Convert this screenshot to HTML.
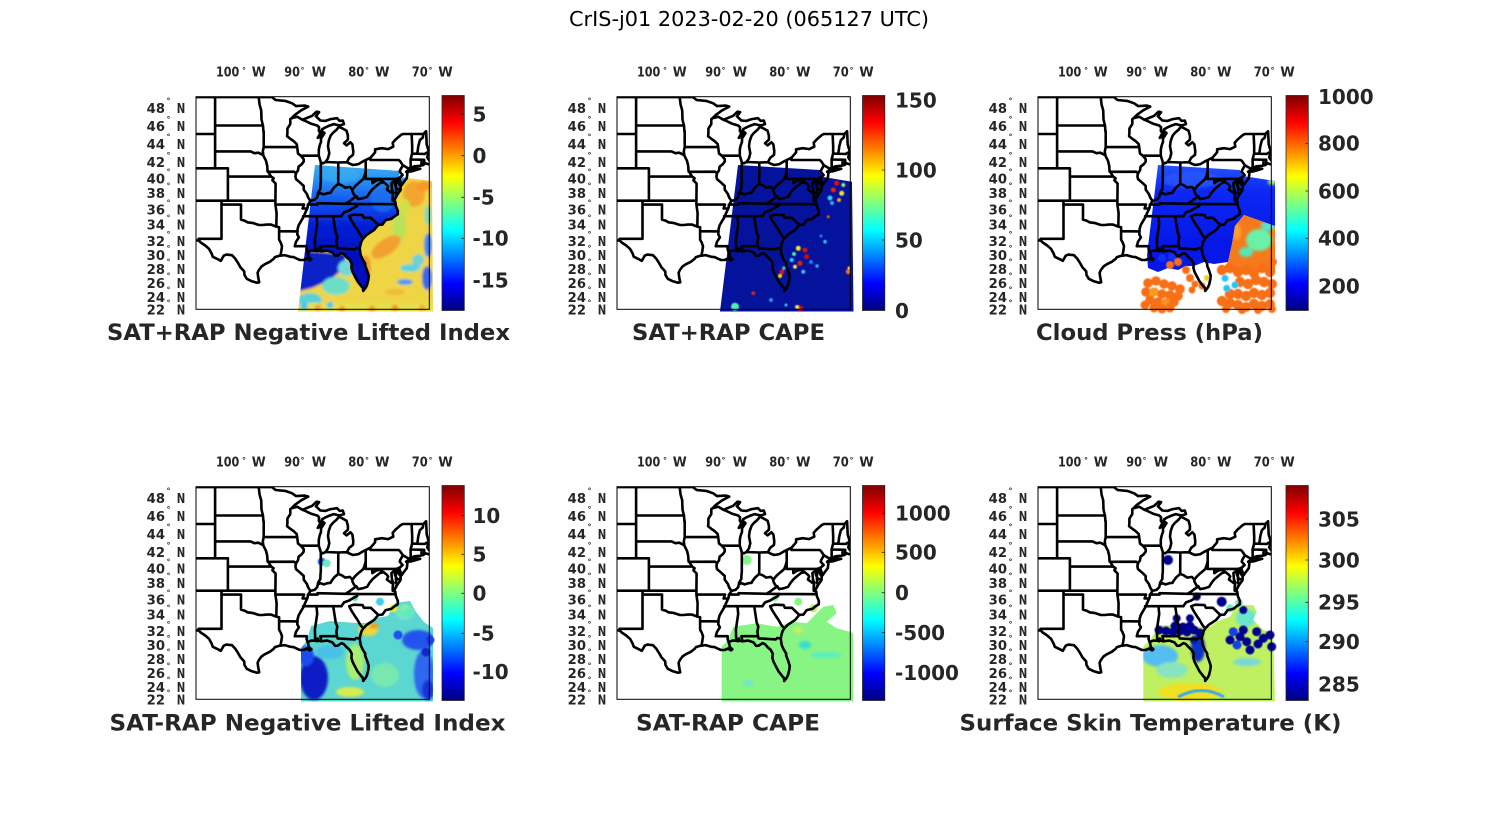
<!DOCTYPE html>
<html><head><meta charset="utf-8">
<style>
html,body{margin:0;padding:0;background:#fff;}
svg{display:block}
text{font-family:"DejaVu Sans","Liberation Sans",sans-serif;}
.ax text{font-weight:bold;fill:#262626;font-size:13px;}
.cbl{font-weight:bold;fill:#262626;font-size:20px;}
.ttl{font-weight:bold;fill:#262626;font-size:22px;}
</style></head>
<body>
<svg width="1500" height="825" viewBox="0 0 1500 825" xmlns="http://www.w3.org/2000/svg" xmlns:xlink="http://www.w3.org/1999/xlink">
<defs>
 <linearGradient id="jet" x1="0" y1="1" x2="0" y2="0">
  <stop offset="0" stop-color="#000080"/><stop offset="0.125" stop-color="#0000FF"/>
  <stop offset="0.375" stop-color="#00FFFF"/><stop offset="0.625" stop-color="#FFFF00"/>
  <stop offset="0.875" stop-color="#FF0000"/><stop offset="1" stop-color="#800000"/>
 </linearGradient>
 <linearGradient id="lg" gradientUnits="userSpaceOnUse" x1="0" y1="165" x2="0" y2="255">
  <stop offset="0" stop-color="#38ACF2"/><stop offset="0.17" stop-color="#2890F2"/>
  <stop offset="0.33" stop-color="#1C68F0"/><stop offset="0.5" stop-color="#0C40E8"/>
  <stop offset="0.67" stop-color="#0420D4"/><stop offset="1" stop-color="#0010C0"/>
 </linearGradient>
 <linearGradient id="g3" gradientUnits="userSpaceOnUse" x1="0" y1="165" x2="0" y2="240">
  <stop offset="0" stop-color="#2454FF"/><stop offset="0.35" stop-color="#0C28F4"/><stop offset="1" stop-color="#0618E8"/>
 </linearGradient>
 <filter id="bl" x="-10%" y="-10%" width="120%" height="120%"><feGaussianBlur stdDeviation="1.3"/></filter>
 <filter id="bl2" x="-20%" y="-20%" width="140%" height="140%"><feGaussianBlur stdDeviation="0.5"/></filter>
 <clipPath id="box"><rect x="196" y="96.7" width="233.3" height="212.6"/></clipPath>
 <clipPath id="land"><path id="landp" d=""/></clipPath>
 <clipPath id="sw"><path d="M315,165 L400,171 L399,177 L432,181 L433,311.5 L298,311.5 Z"/></clipPath>
 <clipPath id="c3"><path d="M316,165 L398,170 L401,176 L433,181 L433,226 L402,215 L393,226 L390,244 L386,262 L372,264 L362,262 L352,266 L344,266 L336,270 L326,268 L316,272 L306,268 L305,255 Z"/></clipPath>
 <clipPath id="c3b"><path d="M433,226 L402,215 L393,226 L390,244 L386,262 L378,272 L433,272 Z"/></clipPath>
 <clipPath id="c4"><path d="M301,311.5 L301,258 L307,250 L311,236 L330,231 L356,233 L366,233 L376,228 L388,226 L395,213 L410,211 L416,222 L424,232 L433,238 L433,311.5 Z"/></clipPath>
 <clipPath id="c5"><path d="M300.7,311.5 L300.7,256.7 L307.3,250 L312.3,236.7 L335.7,233.3 L355.7,236.7 L372.3,231.7 L385.7,233.3 L395.7,223.3 L402.3,216.7 L412.3,215 L415.7,223.3 L405.7,231.7 L415.7,238.3 L429,241.7 L432.3,243.3 L432.3,311.5 Z"/></clipPath>
 <clipPath id="c6"><path d="M301.3,311.5 L301.3,256.7 L308,250 L314.7,240 L321.3,235 L354.7,236.7 L368,236.7 L374.7,231.7 L388,226.7 L394.7,215 L411.3,215 L414.7,221.7 L411.3,230 L421.3,240 L431.3,243.3 L433,311.5 Z"/></clipPath>
 <path id="map" d="" fill="none" stroke="#000" stroke-width="2.6" stroke-linejoin="round" stroke-linecap="round"/>
 <g id="ax" class="ax">
  <text x="216" y="76.7" textLength="23.3" lengthAdjust="spacingAndGlyphs">100</text><text x="242" y="72.9" style="font-size:8px">°</text><text x="251.7" y="76.7" textLength="14" lengthAdjust="spacingAndGlyphs">W</text>
  <text x="284.3" y="76.7" textLength="15.7" lengthAdjust="spacingAndGlyphs">90</text><text x="300.5" y="72.9" style="font-size:8px">°</text><text x="311.7" y="76.7" textLength="14.5" lengthAdjust="spacingAndGlyphs">W</text>
  <text x="348.3" y="76.7" textLength="16" lengthAdjust="spacingAndGlyphs">80</text><text x="365" y="72.9" style="font-size:8px">°</text><text x="375" y="76.7" textLength="14.5" lengthAdjust="spacingAndGlyphs">W</text>
  <text x="411.7" y="76.7" textLength="16" lengthAdjust="spacingAndGlyphs">70</text><text x="428.5" y="72.9" style="font-size:8px">°</text><text x="438.3" y="76.7" textLength="14.5" lengthAdjust="spacingAndGlyphs">W</text>

  <text x="146.7" y="112.8" textLength="18.3" lengthAdjust="spacingAndGlyphs">48</text><text x="166.5" y="103.6" style="font-size:8px">°</text><text x="176.7" y="112.8" textLength="8.5" lengthAdjust="spacingAndGlyphs">N</text>
  <text x="146.7" y="131.2" textLength="18.3" lengthAdjust="spacingAndGlyphs">46</text><text x="166.5" y="122" style="font-size:8px">°</text><text x="176.7" y="131.2" textLength="8.5" lengthAdjust="spacingAndGlyphs">N</text>
  <text x="146.7" y="148.8" textLength="18.3" lengthAdjust="spacingAndGlyphs">44</text><text x="166.5" y="139.6" style="font-size:8px">°</text><text x="176.7" y="148.8" textLength="8.5" lengthAdjust="spacingAndGlyphs">N</text>
  <text x="146.7" y="167.2" textLength="18.3" lengthAdjust="spacingAndGlyphs">42</text><text x="166.5" y="158" style="font-size:8px">°</text><text x="176.7" y="167.2" textLength="8.5" lengthAdjust="spacingAndGlyphs">N</text>
  <text x="146.7" y="183.5" textLength="18.3" lengthAdjust="spacingAndGlyphs">40</text><text x="166.5" y="174.3" style="font-size:8px">°</text><text x="176.7" y="183.5" textLength="8.5" lengthAdjust="spacingAndGlyphs">N</text>
  <text x="146.7" y="197.8" textLength="18.3" lengthAdjust="spacingAndGlyphs">38</text><text x="166.5" y="188.6" style="font-size:8px">°</text><text x="176.7" y="197.8" textLength="8.5" lengthAdjust="spacingAndGlyphs">N</text>
  <text x="146.7" y="214.5" textLength="18.3" lengthAdjust="spacingAndGlyphs">36</text><text x="166.5" y="205.3" style="font-size:8px">°</text><text x="176.7" y="214.5" textLength="8.5" lengthAdjust="spacingAndGlyphs">N</text>
  <text x="146.7" y="229.5" textLength="18.3" lengthAdjust="spacingAndGlyphs">34</text><text x="166.5" y="220.3" style="font-size:8px">°</text><text x="176.7" y="229.5" textLength="8.5" lengthAdjust="spacingAndGlyphs">N</text>
  <text x="146.7" y="246.2" textLength="18.3" lengthAdjust="spacingAndGlyphs">32</text><text x="166.5" y="237" style="font-size:8px">°</text><text x="176.7" y="246.2" textLength="8.5" lengthAdjust="spacingAndGlyphs">N</text>
  <text x="146.7" y="260.2" textLength="18.3" lengthAdjust="spacingAndGlyphs">30</text><text x="166.5" y="251" style="font-size:8px">°</text><text x="176.7" y="260.2" textLength="8.5" lengthAdjust="spacingAndGlyphs">N</text>
  <text x="146.7" y="273.8" textLength="18.3" lengthAdjust="spacingAndGlyphs">28</text><text x="166.5" y="264.6" style="font-size:8px">°</text><text x="176.7" y="273.8" textLength="8.5" lengthAdjust="spacingAndGlyphs">N</text>
  <text x="146.7" y="287.8" textLength="18.3" lengthAdjust="spacingAndGlyphs">26</text><text x="166.5" y="278.6" style="font-size:8px">°</text><text x="176.7" y="287.8" textLength="8.5" lengthAdjust="spacingAndGlyphs">N</text>
  <text x="146.7" y="301.8" textLength="18.3" lengthAdjust="spacingAndGlyphs">24</text><text x="166.5" y="292.6" style="font-size:8px">°</text><text x="176.7" y="301.8" textLength="8.5" lengthAdjust="spacingAndGlyphs">N</text>
  <text x="146.7" y="314.5" textLength="18.3" lengthAdjust="spacingAndGlyphs">22</text><text x="166.5" y="305.3" style="font-size:8px">°</text><text x="176.7" y="314.5" textLength="8.5" lengthAdjust="spacingAndGlyphs">N</text>
 </g>
 <g id="frame">
  <g clip-path="url(#box)"><use href="#map" xlink:href="#map"/></g>
  <rect x="196" y="96.7" width="233.3" height="212.6" fill="none" stroke="#000" stroke-width="1"/>
  <use href="#ax" xlink:href="#ax"/>
 </g>
</defs>

<rect width="1500" height="825" fill="#fff"/>
<text x="569" y="26" style="font-size:20px" textLength="360" lengthAdjust="spacingAndGlyphs" fill="#000">CrIS-j01 2023-02-20 (065127 UTC)</text>

<!-- ========== PANEL 1 ========== -->
<g>
 <g clip-path="url(#sw)">
  <g filter="url(#bl)">
   <rect x="290" y="160" width="150" height="155" fill="#EFD545"/>
   <ellipse cx="414" cy="194" rx="11" ry="13" fill="#F3A62E"/>
   <ellipse cx="424" cy="186" rx="7" ry="5" fill="#F39A2A"/>
   <ellipse cx="399" cy="226" rx="7" ry="16" fill="#B9E25A"/>
   <ellipse cx="405" cy="206" rx="5" ry="7" fill="#CFE04E"/>
   <ellipse cx="386" cy="247" rx="17" ry="8" fill="#F2A030" transform="rotate(-35 386 247)"/>
   <ellipse cx="366" cy="268" rx="5" ry="13" fill="#F39C2C"/>
   <ellipse cx="428" cy="215" rx="4" ry="10" fill="#8CD6B0"/>
   <ellipse cx="428" cy="245" rx="4" ry="12" fill="#3E86EE"/>
   <ellipse cx="427" cy="278" rx="5" ry="12" fill="#3468EE"/>
   <ellipse cx="418" cy="260" rx="6" ry="6" fill="#70D0D8"/>
   <ellipse cx="410" cy="268" rx="10" ry="4" fill="#5CD2E0"/>
   <ellipse cx="405" cy="282" rx="8" ry="3" fill="#4A9CF0"/>
   <ellipse cx="395" cy="292" rx="10" ry="3" fill="#F2B83A"/>
   <path d="M296,250 L346,254 L344,268 L330,280 L312,288 L296,292 Z" fill="#0A22C6"/>
   <ellipse cx="310" cy="300" rx="12" ry="7" fill="#58D0D8"/>
   <ellipse cx="336" cy="286" rx="14" ry="9" fill="#6EDDC6"/>
   <ellipse cx="347" cy="268" rx="9" ry="8" fill="#72D8D8"/>
   <rect x="296" y="303" width="140" height="12" fill="#E6E04A"/>
   <circle cx="304" cy="306" r="4" fill="#48C8E8"/>
   <circle cx="318" cy="308" r="3.5" fill="#F2A030"/>
   <circle cx="330" cy="305" r="3.5" fill="#48C8E8"/>
   <circle cx="342" cy="309" r="3.5" fill="#F2A030"/>
   <circle cx="372" cy="309" r="3.5" fill="#F2A030"/>
   <circle cx="395" cy="308" r="3.5" fill="#F09A28"/>
   <circle cx="422" cy="308" r="3.5" fill="#F0B030"/>
  </g>
  <g clip-path="url(#land)">
   <g filter="url(#bl)">
    <rect x="290" y="160" width="150" height="155" fill="url(#lg)"/>
    <ellipse cx="383" cy="200" rx="12" ry="12" fill="#1C70F0" opacity="0.7"/>
    <ellipse cx="340" cy="175" rx="20" ry="8" fill="#3AB0F2" opacity="0.6"/>
   </g>
  </g>
 </g>
 <use href="#frame" xlink:href="#frame"/>
</g>

<!-- ========== PANEL 2 ========== -->
<g transform="translate(421,0)">
 <path d="M317,165 L399,170 L401,176.7 L431,181.7 L432.5,311.5 L299,311.5 Z" fill="#05129C"/>
 <g filter="url(#bl2)">
  <circle cx="415.7" cy="183.3" r="2.5" fill="#E01010"/><circle cx="412.3" cy="190" r="2.5" fill="#F02010"/>
  <circle cx="420.7" cy="193.3" r="2.5" fill="#F0E020"/><circle cx="409" cy="198" r="2.5" fill="#30D0F0"/>
  <circle cx="422.3" cy="185" r="2" fill="#80F070"/><circle cx="418" cy="200" r="2" fill="#F0A020"/>
  <circle cx="411" cy="203" r="2" fill="#40A0F0"/>
  <circle cx="384" cy="250" r="2.5" fill="#E01010"/><circle cx="377.3" cy="248.3" r="2.5" fill="#F0E020"/>
  <circle cx="385.7" cy="256.7" r="2.5" fill="#D01010"/><circle cx="370.7" cy="260" r="2" fill="#30D0F0"/>
  <circle cx="379" cy="263.3" r="2.5" fill="#E02010"/><circle cx="374" cy="266.7" r="2" fill="#F0E040"/>
  <circle cx="382.3" cy="271.7" r="2" fill="#40C0F0"/><circle cx="373" cy="254" r="2" fill="#60E0A0"/>
  <circle cx="390" cy="262" r="2" fill="#2080F0"/><circle cx="396" cy="266" r="1.8" fill="#30B0F0"/>
  <circle cx="361" cy="272" r="2.5" fill="#E01010"/><circle cx="359" cy="276" r="2" fill="#F0D020"/>
  <circle cx="363" cy="268" r="1.8" fill="#40C0E0"/>
  <circle cx="427.3" cy="271.7" r="2.5" fill="#F07010"/><circle cx="428" cy="268" r="1.5" fill="#F0E040"/>
  <circle cx="314" cy="306.7" r="4" fill="#50F0B0"/><circle cx="379" cy="308.3" r="3" fill="#D01010"/>
  <circle cx="376" cy="307" r="2" fill="#F0E040"/><circle cx="332.3" cy="293.3" r="2" fill="#D02010"/>
  <circle cx="350" cy="300" r="2" fill="#3090F0"/><circle cx="365" cy="305" r="1.5" fill="#40C0F0"/>
  <circle cx="407.3" cy="216.7" r="1.5" fill="#F06010"/><circle cx="404" cy="241.7" r="1.8" fill="#30C0F0"/>
  <circle cx="400" cy="236" r="1.5" fill="#2080F0"/>
 </g>
 <use href="#frame" xlink:href="#frame"/>
</g>

<!-- ========== PANEL 3 ========== -->
<g transform="translate(842,0)">
 <g clip-path="url(#c3)">
  <rect x="290" y="160" width="150" height="155" fill="url(#g3)"/>
  <g filter="url(#bl)">
   <ellipse cx="430" cy="182" rx="4" ry="3" fill="#A8F060"/>
   <ellipse cx="350" cy="180" rx="30" ry="8" fill="#2C60FF" opacity="0.6"/>
  </g>
 </g>
 <g clip-path="url(#c3b)">
  <rect x="370" y="200" width="70" height="80" fill="#F57A1C"/>
  <g filter="url(#bl)">
   <ellipse cx="417" cy="240" rx="13" ry="11" fill="#6AF0A8"/>
   <ellipse cx="426" cy="226" rx="7" ry="5" fill="#58E0C8"/>
   <ellipse cx="404" cy="252" rx="7" ry="5" fill="#56E6B8"/>
   <ellipse cx="395" cy="232" rx="4" ry="8" fill="#F8A030"/>
  </g>
 </g>
 <g filter="url(#bl2)" fill="#F87018">
  <circle cx="306" cy="283" r="4.8"/><circle cx="314" cy="281" r="4.8"/><circle cx="322" cy="284" r="4.8"/>
  <circle cx="330" cy="286" r="4.8"/><circle cx="338" cy="289" r="4.8"/><circle cx="304" cy="292" r="4.8"/>
  <circle cx="312" cy="292" r="4.8" fill="#F89A20"/><circle cx="320" cy="294" r="4.8"/><circle cx="328" cy="295" r="4.8"/>
  <circle cx="336" cy="296" r="4.8"/><circle cx="308" cy="300" r="4.8"/><circle cx="316" cy="302" r="4.8"/>
  <circle cx="324" cy="303" r="4.8" fill="#F89020"/><circle cx="332" cy="302" r="4.8"/><circle cx="312" cy="308" r="4.5"/>
  <circle cx="320" cy="309" r="4.5"/><circle cx="328" cy="308" r="4.5"/><circle cx="303" cy="305" r="4.5"/>
  <circle cx="328" cy="265" r="4"/><circle cx="336" cy="262" r="4"/><circle cx="344" cy="270" r="4"/>
  <circle cx="348" cy="278" r="4"/><circle cx="353" cy="284" r="3.5"/><circle cx="350" cy="290" r="3.5"/>
  <circle cx="365" cy="278" r="3" fill="#F0D020"/><circle cx="360" cy="286" r="3.5"/>
  <circle cx="380" cy="270" r="5.2"/><circle cx="388" cy="268" r="5.2"/><circle cx="396" cy="272" r="5.2"/>
  <circle cx="404" cy="270" r="5.2"/><circle cx="412" cy="273" r="5.2"/><circle cx="420" cy="268" r="5.2"/>
  <circle cx="428" cy="272" r="5.2"/><circle cx="431" cy="262" r="4"/><circle cx="398" cy="282" r="5.2"/>
  <circle cx="406" cy="284" r="5.2"/><circle cx="414" cy="280" r="5.2"/><circle cx="422" cy="282" r="5.2"/>
  <circle cx="430" cy="284" r="5"/><circle cx="388" cy="294" r="5.2"/><circle cx="396" cy="294" r="5.2"/>
  <circle cx="404" cy="296" r="5.2"/><circle cx="412" cy="293" r="5.2"/><circle cx="420" cy="295" r="5.2"/>
  <circle cx="428" cy="293" r="5.2"/><circle cx="380" cy="301" r="5.2"/><circle cx="388" cy="303" r="5.2"/>
  <circle cx="396" cy="305" r="5.2"/><circle cx="404" cy="307" r="5"/><circle cx="412" cy="304" r="5.2"/>
  <circle cx="420" cy="306" r="5.2"/><circle cx="428" cy="304" r="5"/><circle cx="384" cy="309" r="4"/>
  <circle cx="400" cy="310" r="4"/><circle cx="416" cy="310" r="4"/><circle cx="430" cy="309" r="4"/>
  <circle cx="383" cy="278.3" r="3.5" fill="#20C8F0"/><circle cx="384.7" cy="288.3" r="3.5" fill="#20C8F0"/>
  <circle cx="393" cy="285" r="3.5" fill="#20C8F0"/>
  <circle cx="320" cy="258" r="4" fill="#1030F0"/><circle cx="330" cy="256" r="4" fill="#1030F0"/>
 </g>
 <use href="#frame" xlink:href="#frame"/>
</g>

<!-- ========== PANEL 4 ========== -->
<g transform="translate(0,390)">
 <g clip-path="url(#c4)">
  <rect x="290" y="200" width="150" height="115" fill="#5CD6D0"/>
  <g filter="url(#bl)">
   <ellipse cx="314" cy="288" rx="14" ry="22" fill="#0A1EC4"/>
   <ellipse cx="306" cy="266" rx="8" ry="10" fill="#1A4CEE"/>
   <ellipse cx="330" cy="262" rx="14" ry="7" fill="#48C0E8"/>
   <ellipse cx="355" cy="272" rx="9" ry="18" fill="#A8EE70"/>
   <ellipse cx="368" cy="240" rx="10" ry="6" fill="#EAD83A"/>
   <ellipse cx="374" cy="236" rx="5" ry="3" fill="#F0A028"/>
   <ellipse cx="418" cy="250" rx="16" ry="10" fill="#2454EE"/>
   <ellipse cx="424" cy="284" rx="10" ry="24" fill="#2E68F0"/>
   <ellipse cx="428" cy="300" rx="6" ry="10" fill="#1430D8"/>
   <ellipse cx="405" cy="222" rx="10" ry="8" fill="#6EE6C4"/>
   <ellipse cx="350" cy="302" rx="14" ry="5" fill="#D8EC50"/>
   <ellipse cx="385" cy="285" rx="14" ry="12" fill="#78E8B0"/>
   <ellipse cx="335" cy="240" rx="20" ry="6" fill="#58D8D8"/>
  </g>
 </g>
 <g filter="url(#bl2)">
  <circle cx="321.7" cy="171.7" r="4" fill="#2060F0"/><circle cx="326.7" cy="173.3" r="4" fill="#70E8C0"/>
  <circle cx="380" cy="211.7" r="4" fill="#40D0E0"/><circle cx="393.3" cy="218.3" r="4" fill="#E8F020"/>
  <circle cx="405" cy="218.3" r="4" fill="#80F0A0"/><circle cx="408" cy="223" r="4" fill="#60E8C0"/>
  <circle cx="355" cy="208.3" r="3" fill="#50E0C0"/>
  <circle cx="398" cy="245" r="4.5" fill="#2050F0"/><circle cx="414" cy="248" r="4.5" fill="#2050F0"/>
  <circle cx="430" cy="250" r="4.5" fill="#1840E8"/><circle cx="426" cy="262" r="4.5" fill="#0A28D0"/>
 </g>
 <use href="#frame" xlink:href="#frame"/>
</g>

<!-- ========== PANEL 5 ========== -->
<g transform="translate(421,390)">
 <g clip-path="url(#c5)">
  <rect x="290" y="200" width="150" height="115" fill="#88F484"/>
  <g filter="url(#bl)">
   <ellipse cx="384" cy="255" rx="6" ry="4" fill="#36E0D0"/>
   <ellipse cx="405" cy="265" rx="16" ry="3" fill="#5CEEC0"/>
   <ellipse cx="327" cy="293" rx="6" ry="3" fill="#6CE8C8"/>
   <ellipse cx="377" cy="240" rx="5" ry="3" fill="#C8F060"/>
  </g>
 </g>
 <g filter="url(#bl2)">
  <circle cx="325.7" cy="170" r="5" fill="#88F484"/><circle cx="354" cy="208.3" r="3" fill="#88F484"/>
  <circle cx="377.3" cy="211.7" r="4" fill="#88F484"/><circle cx="392.3" cy="218.3" r="4" fill="#B8F060"/>
 </g>
 <use href="#frame" xlink:href="#frame"/>
</g>

<!-- ========== PANEL 6 ========== -->
<g transform="translate(842,390)">
 <g clip-path="url(#c6)">
  <rect x="290" y="200" width="150" height="115" fill="#BEF062"/>
  <g filter="url(#bl)">
   <ellipse cx="318" cy="266" rx="18" ry="11" fill="#54BEF0"/>
   <ellipse cx="330" cy="280" rx="16" ry="8" fill="#88E4C0"/>
   <ellipse cx="348" cy="302" rx="32" ry="9" fill="#F0E020"/>
   <ellipse cx="356" cy="258" rx="7" ry="14" fill="#0A30C8"/>
   <ellipse cx="405" cy="272" rx="14" ry="4" fill="#78D8D8"/>
   <ellipse cx="404" cy="228" rx="10" ry="9" fill="#68E6CC"/>
  </g>
  <path d="M336,307 Q360,294 382,307" stroke="#3AA8F0" stroke-width="3" fill="none" filter="url(#bl2)"/>
 </g>
 <g filter="url(#bl2)" fill="#00008E">
  <circle cx="317" cy="240" r="4.5"/><circle cx="324" cy="241" r="4.5"/><circle cx="331" cy="242" r="4.5"/>
  <circle cx="338" cy="241" r="4.5"/><circle cx="345" cy="242" r="4.5"/><circle cx="352" cy="240" r="4.5"/>
  <circle cx="358" cy="243" r="4.5"/><circle cx="333" cy="236" r="4.5"/><circle cx="341" cy="237" r="4.5"/>
  <circle cx="348" cy="236" r="4.5"/>
  <circle cx="352" cy="250" r="4" fill="#001CA8"/>
  <circle cx="388" cy="250" r="4.5"/><circle cx="398" cy="246.7" r="4.5"/><circle cx="404.7" cy="251.7" r="4.5"/>
  <circle cx="414.7" cy="241.7" r="4.5"/><circle cx="421.3" cy="248.3" r="4.5"/><circle cx="428" cy="245" r="4.5"/>
  <circle cx="429.7" cy="256.7" r="4.5"/><circle cx="408" cy="260" r="4.5"/><circle cx="401.3" cy="240" r="4.5"/>
  <circle cx="391.3" cy="241.7" r="4.5" fill="#1440E0"/><circle cx="395" cy="255" r="4.5" fill="#1440E0"/>
  <circle cx="416" cy="254" r="4.5"/>
  <circle cx="388" cy="218.3" r="4" fill="#6AE8CC"/><circle cx="397" cy="213" r="4" fill="#78EAC0"/>
  <circle cx="401.3" cy="220" r="4"/><circle cx="379.7" cy="211.7" r="5"/>
  <circle cx="326" cy="170" r="5"/><circle cx="354.7" cy="206.7" r="4"/>
  <circle cx="334.7" cy="228.3" r="4"/><circle cx="348" cy="228.3" r="4"/>
 </g>
 <use href="#frame" xlink:href="#frame"/>
</g>

<!-- ========== COLORBARS ========== -->
<g stroke="#262626" stroke-width="0.8">
 <rect x="442" y="95.5" width="22.3" height="215" fill="url(#jet)"/>
 <rect x="862.5" y="95.5" width="22.3" height="215" fill="url(#jet)"/>
 <rect x="1286" y="95.5" width="22.3" height="215" fill="url(#jet)"/>
 <rect x="442" y="485.5" width="22.3" height="215" fill="url(#jet)"/>
 <rect x="862.5" y="485.5" width="22.3" height="215" fill="url(#jet)"/>
 <rect x="1286" y="485.5" width="22.3" height="215" fill="url(#jet)"/>
 <path d="M461.3,114.3h3M461.3,155.7h3M461.3,197.3h3M461.3,238.3h3M461.3,280h3
  M881.8,100h3M881.8,170h3M881.8,240h3
  M1305.3,143.3h3M1305.3,191h3M1305.3,238.3h3M1305.3,286h3
  M461.3,515.7h3M461.3,554.3h3M461.3,593.3h3M461.3,633.3h3M461.3,671.7h3
  M881.8,513.3h3M881.8,552.3h3M881.8,592.7h3M881.8,632.7h3M881.8,672.7h3
  M1305.3,519h3M1305.3,560h3M1305.3,602.3h3M1305.3,641.7h3M1305.3,684.3h3" fill="none"/>
</g>
<g class="cbl">
 <text x="472.5" y="121.6">5</text><text x="472.5" y="163">0</text><text x="472.5" y="204.6">-5</text><text x="472.5" y="245.6">-10</text><text x="472.5" y="287.3">-15</text>
 <text x="895" y="107.3">150</text><text x="895" y="177.3">100</text><text x="895" y="247.3">50</text><text x="895" y="318">0</text>
 <text x="1318" y="104">1000</text><text x="1318" y="150.6">800</text><text x="1318" y="198.3">600</text><text x="1318" y="245.6">400</text><text x="1318" y="293.3">200</text>
 <text x="472.5" y="523">10</text><text x="472.5" y="561.6">5</text><text x="472.5" y="600.6">0</text><text x="472.5" y="640.6">-5</text><text x="472.5" y="679">-10</text>
 <text x="895" y="520.6">1000</text><text x="895" y="559.6">500</text><text x="895" y="600">0</text><text x="895" y="640">-500</text><text x="895" y="680">-1000</text>
 <text x="1318" y="526.3">305</text><text x="1318" y="567.3">300</text><text x="1318" y="609.6">295</text><text x="1318" y="649">290</text><text x="1318" y="691.6">285</text>
</g>

<!-- ========== TITLES ========== -->
<g class="ttl">
 <text x="107" y="340" textLength="403" lengthAdjust="spacingAndGlyphs">SAT+RAP Negative Lifted Index</text>
 <text x="632" y="340" textLength="193" lengthAdjust="spacingAndGlyphs">SAT+RAP CAPE</text>
 <text x="1036" y="340" textLength="227" lengthAdjust="spacingAndGlyphs">Cloud Press (hPa)</text>
 <text x="109.5" y="730.5" textLength="396" lengthAdjust="spacingAndGlyphs">SAT-RAP Negative Lifted Index</text>
 <text x="636" y="730.5" textLength="184" lengthAdjust="spacingAndGlyphs">SAT-RAP CAPE</text>
 <text x="959.5" y="730.5" textLength="382" lengthAdjust="spacingAndGlyphs">Surface Skin Temperature (K)</text>
</g>
</svg>
<script>
(function(){
var R=Math.PI/180;
function mer(l){return Math.log(Math.tan(Math.PI/4+l*R/2));}
var m22=mer(22);
function P(lo,la){return (369+(lo+80)*6.4).toFixed(1)+','+(309.5-360*(mer(la)-m22)).toFixed(1);}
function line(a){var s='';for(var i=0;i<a.length;i+=2){s+=(i?'L':'M')+P(a[i],a[i+1]);}return s;}
var L=[
[-107,49,-95.15,49,-94.6,48.7,-93.1,48.6,-92,48.35,-91.4,48.05,-90,48.1,-89.5,48],
[-89.5,48,-90.6,47.6,-91.6,47.1,-92.1,46.75,-91.2,46.9,-90.7,46.7,-90.4,46.57],
[-90.4,46.57,-89.6,46.8,-88.9,47.0,-88.2,47.45,-87.8,47.4,-88.3,46.95,-87.6,46.5,-86.8,46.45,-86,46.65,-85,46.75,-84.6,46.45,-84.1,46.5,-83.9,46.1],
[-83.9,46.1,-84.6,45.95,-85.5,46.1,-86.3,45.9,-86.9,45.7,-87.3,45.55,-87.6,45.1],
[-90.4,46.57,-90.1,46.5,-89.1,46.15,-88.1,45.95,-87.8,45.75,-87.85,45.35,-87.6,45.1],
[-87.6,45.1,-88,44.55,-87.7,44.7,-87.2,45.25,-86.95,45.1,-87.5,44.5,-87.5,44.1,-87.7,43.7,-87.85,43.2,-87.85,42.5],
[-92.1,46.75,-92.3,46.65,-92.3,46.1,-92.75,45.6,-92.75,45.1,-92.8,44.75,-92.3,44.45,-91.8,44.2,-91.3,43.85,-91.22,43.5],
[-91.22,43.5,-91.1,42.75,-90.65,42.5,-90.2,42.1,-90.2,41.8,-90.5,41.5,-91,41.2,-91.1,40.75,-91.4,40.4,-91.5,40.05,-91.4,39.7,-90.75,39.25,-90.2,38.85,-90.2,38.4,-89.7,37.85,-89.5,37.4,-89.15,36.98,-89.4,36.6,-89.55,36.5,-89.6,36.1,-90.05,35.3,-90.15,35,-90.6,34.4,-91,33.8,-91.15,33.3,-91.2,32.6,-90.95,32.2,-91.4,31.6,-91.6,31],
[-96.45,43.5,-91.22,43.5],
[-97.23,49,-97.1,48.2,-96.85,47.6,-96.8,46.6,-96.6,46,-96.56,45.94,-96.5,45.3,-96.45,45.3,-96.45,43.5,-96.6,43,-96.5,42.5,-96.1,41.9,-95.9,41.3,-95.85,40.6,-95.75,40.58,-95.3,40],
[-104.05,43,-98.5,43,-97.9,42.8,-97.3,42.85,-96.6,42.6,-96.5,42.5],
[-104.05,45.94,-96.56,45.94],
[-104.05,49,-104.05,41],
[-107,45,-104.05,45],
[-107,41,-102.05,41,-102.05,37],
[-102.05,40,-95.3,40],
[-95.3,40,-94.9,39.8,-95.1,39.55,-94.6,39.15,-94.62,37,-94.62,36.5,-94.43,35.4,-94.48,33.64],
[-95.75,40.58,-91.7,40.6,-91.4,40.4],
[-107,37,-94.62,37],
[-103.05,37,-103.05,36.5,-100,36.5,-100,34.56,-99.4,34.4,-99,34.2,-98.1,34.1,-97.2,33.85,-96.6,33.85,-96,33.9,-95.3,33.9,-94.48,33.64,-94.04,33.55],
[-103.05,36.5,-103.05,32,-106.62,32,-106.62,31.8,-107,31.78],
[-106.62,31.8,-106.3,31.5,-105.6,31.1,-105,30.65,-104.6,30,-104.4,29.55,-103.6,29.2,-103.15,28.98,-102.7,29.7,-102.3,29.85,-101.4,29.77,-100.9,29.3,-100.4,28.6,-100.1,28.1,-99.5,27.5,-99.45,27,-99.1,26.45,-98.3,26.1,-97.5,25.9,-97.15,25.95,
 -97.3,26.6,-97.4,27.3,-97.2,27.7,-96.8,28.2,-96.3,28.5,-95.5,28.85,-94.9,29.25,-94.7,29.5,-94,29.7,-93.84,29.7,
 -93.2,29.78,-92.3,29.55,-91.8,29.5,-91.3,29.3,-90.8,29.1,-90.2,29.1,-89.7,29.3,-89.2,29.05,-89,29.2,-89.4,29.5,-89.5,30,-89.6,30.2,
 -89,30.4,-88.4,30.38,-88.1,30.3,-88,30.7,-87.9,30.4,-87.5,30.3,-86.5,30.4,-85.7,30.15,-85.3,29.68,-84.9,29.7,-84.3,30.05,-83.9,29.9,-83.5,29.5,-83,29.1,-82.7,28.6,-82.75,28,-82.6,27.5,-82.2,26.8,-81.8,26.1,-81.2,25.4,-80.95,25.15,-80.9,24.7,-80.5,25.2,-80.3,25.6,-80.1,26.4,-80.05,26.9,-80.3,27.6,-80.6,28.3,-80.6,28.6,-81,29.2,-81.3,29.8,-81.45,30.7,-81.3,31.3,-81.15,31.7,-80.9,32.05,-80.4,32.5,-79.9,32.8,-79.2,33.2,-78.55,33.86,-77.9,33.9,-77.4,34.5,-76.5,34.65,-76,35,-75.5,35.25,-75.5,35.7,-75.8,36.3,-75.9,36.9,-76.3,37,-76.3,37.5,-76.2,38,-76.4,38.4,-76.5,39.2,-76,39.5,-75.95,39,-75.7,38.6,-75.8,38,-75.6,37.9,-75.95,37.2,-75.55,37.8,-75.1,38.3,-75.05,38.8,-75.4,39.2,-75.55,39.6,-75.3,39.85,-74.9,38.95,-74.6,39.3,-74.1,39.8,-74,40.4,-74.2,40.6,-74,40.7,-73.9,40.6,-73.3,40.65,-72,40.95,-72.8,40.95,-73.7,40.9,-73.65,41,-72.9,41.25,-72,41.3,-71.5,41.4,-71.2,41.6,-70.7,41.5,-70,41.75,-70.1,42.05,-70.6,41.95,-70.9,42.3,-70.8,42.6,-70.7,43,-70.3,43.6,-69.8,43.8],
[-94.04,33.55,-94.04,31.9,-93.8,31.5,-93.6,31,-93.7,30.3,-93.84,29.7],
[-94.04,33.02,-91.15,33],
[-94.62,36.5,-90.15,36.5,-90.37,36,-89.7,36],
[-91.6,31,-89.73,31,-89.75,30.6,-89.6,30.2],
[-88.2,35,-88.1,34,-88.45,31.9,-88.4,30.4],
[-90.3,35,-84.32,35],
[-85.6,35,-85.2,32.85,-84.95,32.3,-85.1,31.6,-85,31,-84.9,30.7,-82.2,30.57,-82,30.75,-81.5,30.7],
[-87.6,31,-85,31],[-87.6,31,-87.45,30.4],
[-83.1,35,-82.8,34.5,-82.2,33.7,-81.8,33.2,-81.4,32.6,-80.9,32.05],
[-83.1,35,-82.4,35.2,-81,35.15,-80.8,34.8,-79.7,34.8,-78.55,33.86],
[-84.32,35,-83.9,35.5,-83.1,35.75,-82.6,36,-81.9,36.3,-81.68,36.59],
[-89.55,36.5,-88.05,36.5,-88.05,36.68,-83.68,36.6,-81.68,36.59,-75.9,36.55],
[-83.68,36.6,-83.1,36.9,-82.6,37.2,-81.97,37.54,-82.3,37.7,-82.6,38.17,-82.6,38.4],
[-81.97,37.54,-81.7,37.2,-81,37.3,-80.3,37.5,-79.9,38,-79.5,38.4,-79.1,38.7,-78.8,38.9,-78.3,39.2,-77.8,39.3,-77.7,39.32],
[-77.7,39.32,-78.3,39.6,-78.8,39.55,-79.48,39.2,-79.48,39.72],
[-77.7,39.32,-77.2,39,-77,38.8,-77.2,38.4,-76.5,38,-76.3,37.9],
[-80.52,39.72,-75.79,39.72,-75.79,38.45,-75.05,38.45],
[-75.79,39.72,-75.4,39.8],
[-89.15,36.98,-88.5,37.1,-88.1,37.45,-88,37.8,-87.6,37.95,-87.1,37.8,-86.5,37.95,-86,38,-85.8,38.3,-85.4,38.7,-84.8,39.1,-84.3,38.95,-83.7,38.65,-83,38.73,-82.6,38.4,-82.2,38.8,-81.8,39.1,-81.4,39.35,-80.9,39.7,-80.7,40.1,-80.52,40.64],
[-87.53,41.7,-87.53,39.4,-87.6,38.9,-87.6,38.5,-87.95,38,-88,37.8],
[-84.82,39.1,-84.8,41.7],
[-86.8,41.76,-84.8,41.7,-83.45,41.73],
[-90.64,42.5,-87.85,42.5,-87.6,41.9,-87.53,41.7,-87.2,41.6,-86.8,41.76],
[-86.8,41.76,-86.4,42.2,-86.2,42.8,-86.4,43.6,-86.3,44.2,-86,44.8,-85.6,45.15,-85.1,45.45,-84.7,45.8,-84.2,45.65,-83.5,45.35,-83.3,44.8,-83.3,44.35,-83.9,43.95,-83.5,43.7,-82.9,44.05,-82.6,43.8,-82.45,43,-82.5,42.6,-83.1,42.25,-83.45,41.73,-83,41.55,-82.5,41.4,-81.7,41.5,-81,41.8,-80.52,41.98,-80.52,39.72],
[-80.52,41.98,-79.76,42.27,-79.76,42,-75.35,42,-75.1,41.8,-74.7,41.36,-75.1,40.85,-75.2,40.6,-74.75,40.2,-75.1,39.95,-75.4,39.8],
[-74.7,41.36,-73.9,41],
[-79.76,42.27,-79.05,42.9,-79.05,43.25,-78,43.37,-77,43.27,-76.2,43.55,-76.3,44,-75.8,44.4,-75,44.9,-74.7,45,-71.5,45,-71.1,45.3],
[-73.35,45,-73.3,44.3,-73.25,43.55,-73.27,42.75,-73.5,42.05,-73.48,41.2,-73.65,41],
[-71.5,45,-71.6,44.6,-72.05,44.3,-72.3,43.6,-72.46,42.73],
[-73.27,42.75,-71.3,42.7,-71,42.85,-70.8,42.87],
[-73.5,42.05,-71.38,42.02,-71.38,41.5],
[-71.8,42.02,-71.8,41.35],
[-71.08,45.3,-70.98,43.8,-70.7,43.1]
];
var d='';for(var i=0;i<L.length;i++)d+=line(L[i]);
document.getElementById('map').setAttribute('d',d);
var LAND=[-100,46,-73.9,46,-73.9,40.6,-74.2,40.6,-74,40.4,-74.1,39.8,-74.6,39.3,-74.9,38.95,-75.05,38.8,-75.1,38.3,-75.55,37.8,-75.95,37.2,-75.9,36.9,-75.8,36.3,-75.5,35.7,-75.5,35.25,-76,35,-76.5,34.65,-77.4,34.5,-77.9,33.9,-78.55,33.86,-79.2,33.2,-79.9,32.8,-80.4,32.5,-80.9,32.05,-81.15,31.7,-81.3,31.3,-81.45,30.7,-81.3,29.8,-81,29.2,-80.6,28.6,-80.6,28.3,-80.3,27.6,-80.05,26.9,-80.1,26.4,-80.3,25.6,-80.5,25.2,-80.9,24.7,-80.95,25.15,-81.2,25.4,-81.8,26.1,-82.2,26.8,-82.6,27.5,-82.75,28,-82.7,28.6,-83,29.1,-83.5,29.5,-83.9,29.9,-84.3,30.05,-84.9,29.7,-85.3,29.68,-85.7,30.15,-86.5,30.4,-87.5,30.3,-88.1,30.3,-88.4,30.38,-89,30.4,-89.6,30.2,-89.5,30,-89.4,29.5,-89,29.2,-89.2,29.05,-89.7,29.3,-90.2,29.1,-90.8,29.1,-91.3,29.3,-91.8,29.5,-92.3,29.55,-93.2,29.78,-94,29.7,-100,29];
document.getElementById('landp').setAttribute('d',line(LAND)+'Z');
})();
</script>
</body></html>
